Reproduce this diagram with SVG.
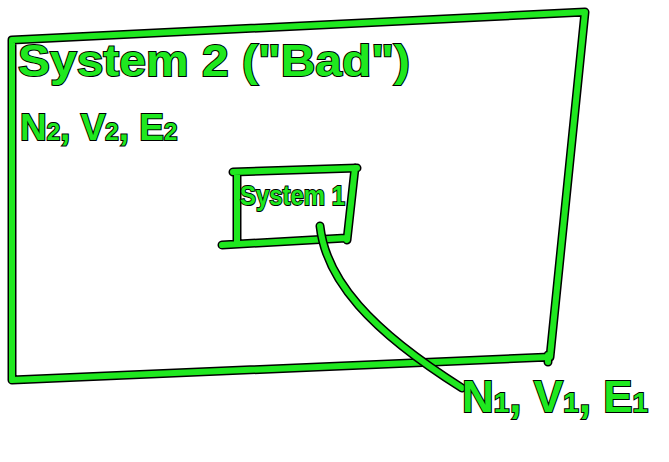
<svg xmlns="http://www.w3.org/2000/svg" width="669" height="462" viewBox="0 0 669 462">
<style>
.o{fill:none;stroke:#000;stroke-width:9;stroke-linecap:round;stroke-linejoin:round}
.g{fill:none;stroke:#1fe81f;stroke-width:6;stroke-linecap:round;stroke-linejoin:round}
.t{font-family:"Liberation Sans",Arial,sans-serif;fill:#1fe81f;stroke:#000;stroke-width:2;paint-order:stroke;font-weight:bold}
</style>
<defs>
<path id="big" d="M12 40 L585 12 L550 357 L12 380 Z M548 355 L548 362"/>
<path id="small" d="M233 172 L357 168 M237 172 L237 243 M355 168 L347 240 M222 245 L346 238"/>
<path id="conn" d="M320 226 C 326 280, 370 330, 462 388"/>
</defs>
<rect width="669" height="462" fill="#fff"/>
<g id="system2">
<use href="#big" class="o"/><use href="#big" class="g"/>
<text class="t" x="18" y="76" font-size="44" textLength="392" lengthAdjust="spacingAndGlyphs">System 2 ("Bad")</text>
<text class="t" x="20" y="140" font-size="37">N<tspan font-size="24">2</tspan>, V<tspan font-size="24">2</tspan>, E<tspan font-size="24">2</tspan></text>
</g>
<g id="system1">
<use href="#small" class="o"/><use href="#small" class="g"/>
<text class="t" x="240" y="205" font-size="28" textLength="105" lengthAdjust="spacingAndGlyphs">System 1</text>
</g>
<g id="connectors">
<use href="#conn" class="o"/><use href="#conn" class="g"/>
</g>
<g id="label1">
<text class="t" x="462" y="412" font-size="44">N<tspan font-size="28">1</tspan>, V<tspan font-size="28">1</tspan>, E<tspan font-size="28">1</tspan></text>
</g>
</svg>
